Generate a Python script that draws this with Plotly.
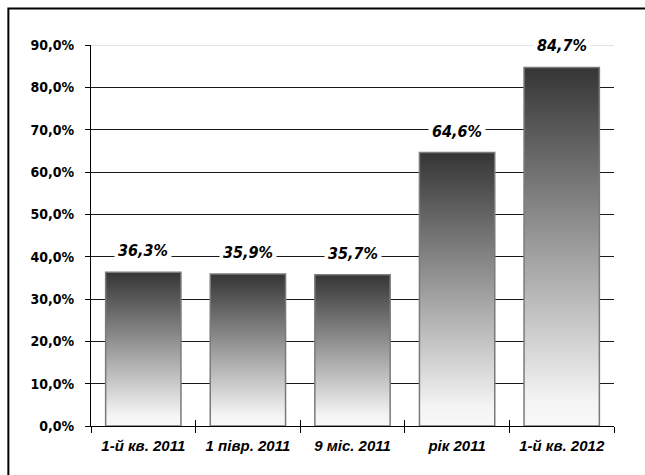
import plotly.graph_objects as go

# Chart data
categories = ["1-й кв. 2011", "1 півр. 2011", "9 міс. 2011", "рік 2011", "1-й кв. 2012"]
values = [36.3, 35.9, 35.7, 64.6, 84.7]
y_ticks = [0, 10, 20, 30, 40, 50, 60, 70, 80, 90]

BAR_WIDTH = 0.72
NARROW = "DejaVu Sans Condensed, Liberation Sans Narrow, Arial Narrow, sans-serif"
REGULAR = "Liberation Sans, Arial, sans-serif"


def pct(v):
    return f"{v:.1f}%".replace(".", ",")


fig = go.Figure()

# Bars drawn as filled polygons so that each can carry a vertical gradient
for i, v in enumerate(values):
    x0, x1 = i - BAR_WIDTH / 2, i + BAR_WIDTH / 2
    fig.add_trace(go.Scatter(
        x=[x0, x0, x1, x1, x0],
        y=[0, v, v, 0, 0],
        mode="lines",
        fill="toself",
        fillgradient=dict(type="vertical",
                          colorscale=[[0, "#f8f8f8"], [0.07, "#f4f4f4"], [1, "#353535"]]),
        line=dict(color="#7a7a7a", width=1.5),
        hoverinfo="skip",
        showlegend=False,
    ))

# Empty trace that keeps the secondary x axis (inner tick marks) on the page
fig.add_trace(go.Scatter(x=[], y=[], xaxis="x2", yaxis="y",
                         hoverinfo="skip", showlegend=False))

# Value labels above each bar, on a white box that breaks the grid line
for i, v in enumerate(values):
    fig.add_annotation(
        x=i, y=v,
        text=pct(v),
        showarrow=False,
        yanchor="bottom",
        yshift=8,
        bgcolor="white",
        borderpad=3,
        font=dict(family=NARROW, size=16, color="black", weight="bold", style="italic"),
    )

n = len(categories)
boundaries = [i - 0.5 for i in range(n + 1)]
xr = [-0.5, n - 0.5]

fig.update_layout(
    width=645,
    height=475,
    margin=dict(l=91, r=31, t=45, b=49),
    paper_bgcolor="white",
    plot_bgcolor="white",
    xaxis=dict(
        range=xr,
        tickmode="array",
        tickvals=list(range(n)),
        ticktext=categories,
        ticks="",
        minor=dict(tickmode="array", tickvals=boundaries, ticks="outside",
                   ticklen=6, tickcolor="black", showgrid=False),
        showgrid=False,
        zeroline=False,
        showline=True,
        linecolor="black",
        linewidth=1,
        tickfont=dict(family=REGULAR, size=15, color="black", weight="bold", style="italic"),
        ticklabelstandoff=6,
    ),
    xaxis2=dict(
        overlaying="x", anchor="y", side="bottom",
        range=xr, tickmode="array", tickvals=boundaries,
        ticks="inside", ticklen=6, tickcolor="black",
        showticklabels=False, showgrid=False, zeroline=False, showline=False,
    ),
    yaxis=dict(
        range=[y_ticks[0], y_ticks[-1]],
        tickmode="array",
        tickvals=y_ticks,
        ticktext=[pct(t) for t in y_ticks],
        ticks="outside",
        ticklen=5,
        tickcolor="black",
        showgrid=True,
        gridcolor="#1a1a1a",
        gridwidth=1,
        zeroline=False,
        showline=True,
        linecolor="black",
        linewidth=1,
        tickfont=dict(family=NARROW, size=14, color="black", weight="bold"),
        ticklabelstandoff=8,
    ),
)

# Lighter top grid line
fig.add_shape(type="line", xref="paper", yref="y",
              x0=0, x1=1, y0=y_ticks[-1], y1=y_ticks[-1],
              line=dict(color="#c8c8c8", width=1), layer="above")

# Outer frame
fig.add_shape(type="rect", xref="paper", yref="paper",
              x0=-0.158, x1=1.3, y0=-0.4, y1=1.096,
              line=dict(color="black", width=2), fillcolor="rgba(0,0,0,0)", layer="below")

fig.write_html("out.html")
